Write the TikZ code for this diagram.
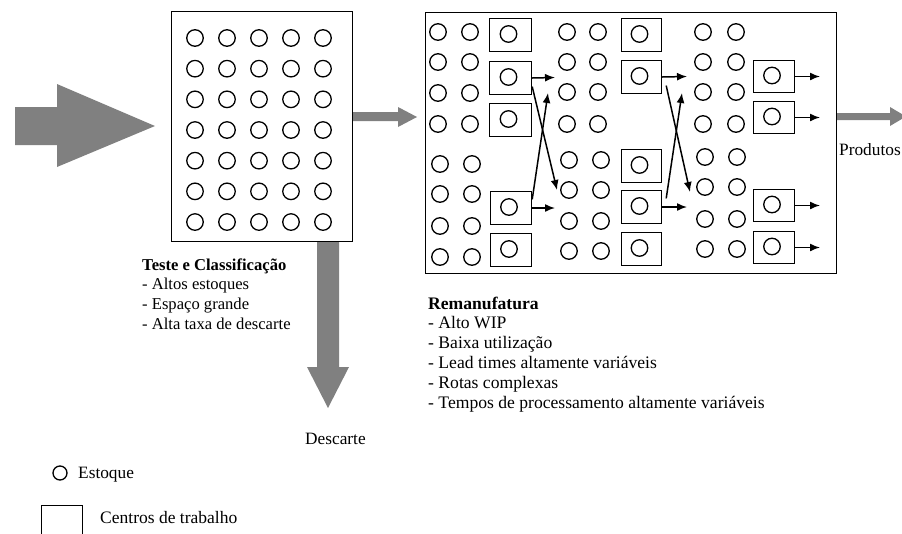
\documentclass[tikz,border=0pt]{standalone}
\usepackage{fontspec}
\setmainfont{Liberation Serif}
\usetikzlibrary{arrows.meta,calc}
\definecolor{flowgray}{RGB}{128,128,128}

\begin{document}
\begin{tikzpicture}[x=1pt,y=-1pt,
  stock/.style={circle,draw,line width=1.3pt,minimum size=16.5pt,inner sep=0pt},
  legstock/.style={stock,minimum size=14pt},
  wc/.style={rectangle,draw,line width=1.4pt,minimum width=42pt,minimum height=33pt,inner sep=0pt},
  area/.style={rectangle,draw,line width=1.5pt,inner sep=0pt},
  link/.style={line width=1.5pt,-{Latex[length=10pt,width=8pt]}},
  txt/.style={anchor=base west,inner sep=0pt,font=\fontsize{17.3}{19.7}\selectfont},
]
\clip (0,0) rectangle (902,533);
\useasboundingbox (0,0) rectangle (902,533);

% --- broad flow arrows (drawn first, the area frames sit on top) ---
\fill[flowgray] (15,107) -- (57,107) -- (57,84) -- (155,126) -- (57,167) -- (57,145) -- (15,145) -- cycle;
\fill[flowgray] (352,112) -- (398,112) -- (398,107) -- (417,117) -- (398,127) -- (398,121) -- (352,121) -- cycle;
\fill[flowgray] (317,241) -- (339,241) -- (339,367) -- (349,367) -- (328,408) -- (307,367) -- (317,367) -- cycle;
\fill[flowgray] (836,113) -- (890,113) -- (890,107) -- (906,116.5) -- (890,126) -- (890,120) -- (836,120) -- cycle;

% --- areas ---
\node[area,minimum width=181pt,minimum height=230pt] (tc) at (262,126.5) {};
\node[area,minimum width=411pt,minimum height=261pt] (rm) at (631,143) {};

% --- stock in test & classification ---
\foreach \x [count=\i] in {195,227,259,291,323}
  \foreach \k in {0,...,6}
    \node[stock] (t-\i-\k) at (\x,{38+30.67*\k}) {};

% --- stock in remanufacturing ---
\foreach \xa/\xb/\ys/\tag in {438/470/{32,62,93,124}/au, 440/472/{164,194,226,257}/al,
                             567/598/{32,62,92,124}/cu, 569/601/{160,190,221,251}/cl,
                             703/736/{32,62,92,124}/eu, 705/737/{157,187,219,249}/el}
  \foreach \y [count=\j] in \ys {
    \node[stock] (\tag-\j-1) at (\xa,\y) {};
    \node[stock] (\tag-\j-2) at (\xb,\y) {};
  }

% --- work centres ---
\node[wc] (b1) at (510.5,35) {};
\node[wc] (b2) at (510.5,78) {};
\node[wc] (b3) at (510.5,120) {};
\node[wc,minimum width=41pt] (b4) at (511,208) {};
\node[wc,minimum width=41pt] (b5) at (511,250) {};
\node[wc,minimum width=40pt] (c1) at (641.5,35) {};
\node[wc,minimum width=40pt] (c2) at (641.5,77) {};
\node[wc,minimum width=40pt] (c3) at (641.5,166) {};
\node[wc,minimum width=40pt] (c4) at (641.5,207) {};
\node[wc,minimum width=40pt] (c5) at (641.5,249) {};
\node[wc,minimum width=41pt,minimum height=32pt] (e1) at (774,76.5) {};
\node[wc,minimum width=41pt,minimum height=32pt] (e2) at (774,117.5) {};
\node[wc,minimum width=41pt,minimum height=32pt] (e3) at (774,205.5) {};
\node[wc,minimum width=41pt,minimum height=32pt] (e4) at (774,247.5) {};
\foreach \b in {b1,b2,b3,b4,b5,c1,c2,c3,c4,c5,e1,e2,e3,e4}
  \node[stock] (\b-s) at ($(\b)+(-2,-1)$) {};

% --- routes between work centres ---
\coordinate (p1) at (555,77.5);
\coordinate (p2) at (555,208);
\coordinate (p3) at (557,190);
\coordinate (p4) at (548,93);
\coordinate (q1) at (687,76.5);
\coordinate (q2) at (687,207);
\coordinate (q3) at (690,192);
\coordinate (q4) at (682,93);
\coordinate (o1) at (820,76.5);
\coordinate (o2) at (820,117.5);
\coordinate (o3) at (820,205.5);
\coordinate (o4) at (820,247.5);
\draw[link] (b2.east) -- (p1);
\draw[link] (b4.east) -- (p2);
\draw[link] ($(b2.east)!0.5!(b2.south east)$) -- (p3);
\draw[link] ($(b4.east)!0.5!(b4.north east)$) -- (p4);
\draw[link] (c2.east) -- (q1);
\draw[link] (c4.east) -- (q2);
\draw[link] ($(c2.east)!0.5!(c2.south east)+(4,0)$) -- (q3);
\draw[link] ($(c4.east)!0.5!(c4.north east)+(4,0)$) -- (q4);
\draw[link] (e1.east) -- (o1);
\draw[link] (e2.east) -- (o2);
\draw[link] (e3.east) -- (o3);
\draw[link] (e4.east) -- (o4);

% --- texts ---
\node[txt,font=\fontsize{16.6}{19.7}\selectfont] (tctext) at (142,270) {\begin{tabular}[t]{@{}l@{}}\textbf{Teste e Classificação}\\- Altos estoques\\- Espaço grande\\- Alta taxa de descarte\end{tabular}};
\node[txt,font=\fontsize{17.6}{19.8}\selectfont] (rmtext) at (428,309) {\begin{tabular}[t]{@{}l@{}}\textbf{Remanufatura}\\- Alto WIP\\- Baixa utilização\\- Lead times altamente variáveis\\- Rotas complexas\\- Tempos de processamento altamente variáveis\end{tabular}};
\node[txt] (desc) at (305,444) {Descarte};
\node[txt] (prod) at (839,155) {Produtos};

% --- legend ---
\node[legstock] (legc) at (60,473) {};
\node[txt] (legctext) at (78,478) {Estoque};
\node[wc,minimum width=41pt] (legb) at (62,522) {};
\node[txt,font=\fontsize{17.5}{19.7}\selectfont] (legbtext) at (100,523) {Centros de trabalho};
\end{tikzpicture}
\end{document}
